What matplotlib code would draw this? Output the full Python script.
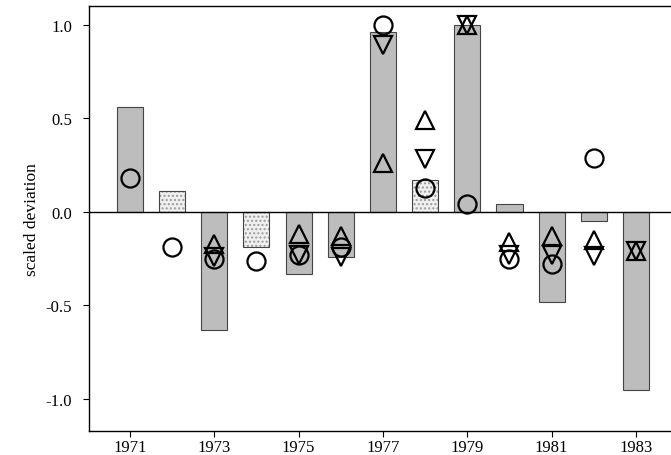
import numpy as np
import matplotlib
matplotlib.use("Agg")
import matplotlib.pyplot as plt

nan = np.nan

years = np.arange(1971, 1984)
bars = [0.56, 0.11, -0.63, -0.19, -0.33, -0.24, 0.96, 0.17, 1.00, 0.04, -0.48, -0.05, -0.95]
light = [False, True, False, True, False, False, False, True, False, False, False, False, False]

circle = [0.18, -0.19, -0.25, -0.26, -0.23, -0.19, 1.00, 0.13, 0.04, -0.25, -0.28, 0.29, nan]
up = [nan, nan, -0.17, nan, -0.12, -0.13, 0.26, 0.49, 1.00, -0.16, -0.13, -0.15, -0.21]
down = [nan, nan, -0.24, nan, -0.23, -0.24, 0.89, 0.28, 1.00, -0.23, -0.23, -0.235, -0.21]

xticks = [1971, 1973, 1975, 1977, 1979, 1981, 1983]
yticks = [-1.0, -0.5, 0.0, 0.5, 1.0]

plt.rcParams['font.family'] = ['Liberation Serif', 'DejaVu Serif']

fig = plt.figure(figsize=(6.71, 4.56), dpi=100)
ax = fig.add_axes([0.1326, 0.0526, 0.8674, 0.932])

bars = np.array(bars)
light = np.array(light)
ax.bar(years[~light], bars[~light], width=0.62, color='#bdbdbd',
       edgecolor='#444444', linewidth=0.8, zorder=1)
ax.bar(years[light], bars[light], width=0.62, color='#f0f0f0',
       edgecolor='#9a9a9a', hatch='....', linewidth=0, zorder=1)
ax.bar(years[light], bars[light], width=0.62, color='none',
       edgecolor='#444444', linewidth=0.8, zorder=1)

ax.axhline(0, color='black', linewidth=1.0, zorder=2)

mk = dict(linestyle='none', markerfacecolor='none', markeredgecolor='black',
          markeredgewidth=1.6, zorder=3)
ax.plot(years, circle, marker='o', markersize=13, **mk)
ax.plot(years, up, marker='^', markersize=13, **mk)
ax.plot(years, down, marker='v', markersize=13, **mk)

ax.set_xlim(1970.03, 1983.83)
ax.set_ylim(-1.171, 1.10)
ax.set_xticks(xticks)
ax.set_yticks(yticks)
ax.set_yticklabels(['%.1f' % v for v in yticks])
ax.tick_params(labelsize=12, length=4, width=0.8, direction='out')
ax.tick_params(axis='x', pad=2)
ax.tick_params(axis='y', pad=8)
ax.set_ylabel("scaled deviation", fontsize=12.5, labelpad=4)
ax.spines['right'].set_visible(False)
for s in ['left', 'top', 'bottom']:
    ax.spines[s].set_linewidth(1.0)

fig.savefig("out.png", dpi=100)
